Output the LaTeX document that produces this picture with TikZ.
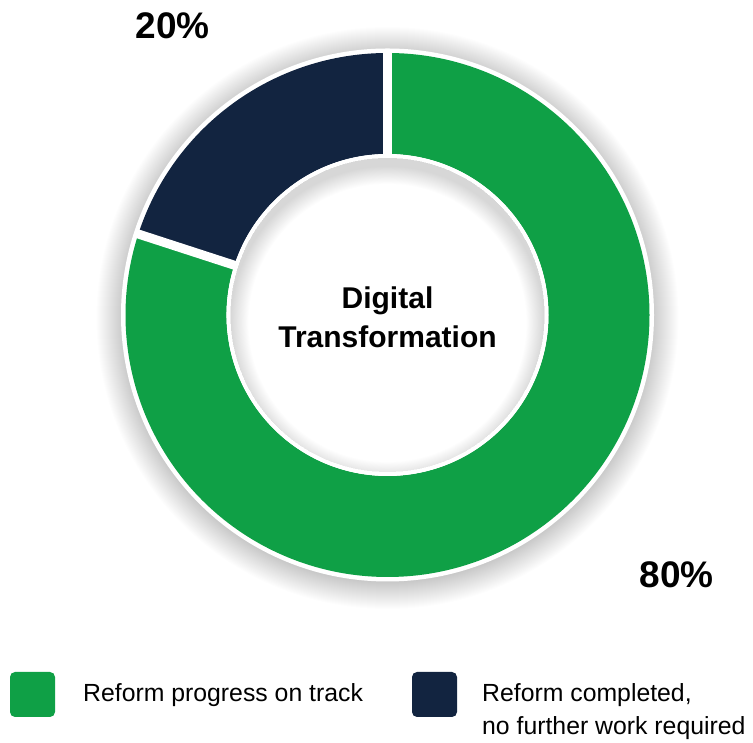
\documentclass[tikz,border=0pt]{standalone}
\usepackage{fontspec}
\setmainfont{Liberation Sans}
\definecolor{dgreen}{RGB}{15,160,70}
\definecolor{dnavy}{RGB}{18,36,64}
\tikzset{
  pct/.style={font=\bfseries\fontsize{37}{44}\selectfont, inner sep=0pt},
  legsq/.style={minimum width=45pt, minimum height=45pt, rounded corners=5pt, inner sep=0pt},
  legtxt/.style={font=\fontsize{24.8}{33}\selectfont, anchor=base west, inner sep=0pt},
}
\begin{document}
\begin{tikzpicture}[x=1pt,y=1pt]
\useasboundingbox (0,0) rectangle (753,743);
\coordinate (c) at (387.5,428);
% soft outer shadow
\foreach \k in {0,...,29}
  \fill[black,opacity=0.006] ([yshift=-3pt]c) circle[radius={(262+\k)*1pt}];
% white rim
\fill[white] (c) circle[radius=266.5pt];
% segments
\fill[dgreen] ([shift={(90:262pt)}]c) arc[start angle=90, end angle=-198, radius=262pt]
  -- ([shift={(-198:161pt)}]c) arc[start angle=-198, end angle=90, radius=161pt] -- cycle;
\fill[dnavy] ([shift={(90:262pt)}]c) arc[start angle=90, end angle=162, radius=262pt]
  -- ([shift={(162:161pt)}]c) arc[start angle=162, end angle=90, radius=161pt] -- cycle;
% gaps
\coordinate (g1) at ([shift={(90:265pt)}]c);
\coordinate (g2) at ([shift={(162:265pt)}]c);
\draw[white, line width=9pt] (c) -- (g1);
\draw[white, line width=9pt] (c) -- (g2);
% hole
\fill[white] (c) circle[radius=161pt];
\begin{scope}
  \clip (c) circle[radius=157pt];
  \foreach \k in {1,...,20}
    \fill[black,opacity=0.007,even odd rule] (c) circle[radius=175pt] ([yshift=-8pt]c) circle[radius={(157-0.9*\k)*1pt}];
\end{scope}
% labels
\node[pct] (p20) at (172.5,717.5) {20\%};
\node[pct] (p80) at (676.5,168.5) {80\%};
\node[align=center, font=\bfseries\fontsize{30}{39}\selectfont] (title) at (387.5,425.5) {Digital\\Transformation};
% legend
\node[legsq, fill=dgreen] (sq1) at (32.5,48.5) {};
\node[legsq, fill=dnavy] (sq2) at (434.5,48.5) {};
\node[legtxt] (lg1) at (83,41) {Reform progress on track};
\node[legtxt] (lg2a) at (482,41) {Reform completed,};
\node[legtxt] (lg2b) at (482,8) {no further work required};
\end{tikzpicture}
\end{document}
